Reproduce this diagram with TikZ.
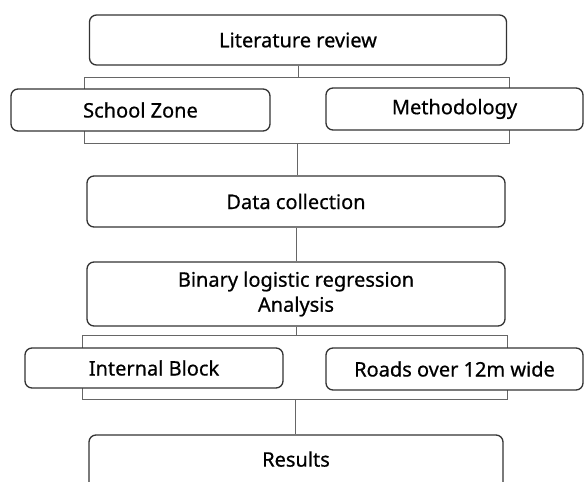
\documentclass[tikz,border=0pt]{standalone}
\usepackage{fontspec}
\newfontfamily\stagefont{Noto Sans}[FakeBold=0.6]
\usepackage{tikz}
\tikzset{
  stagebox/.style  = {draw=black!80, line width=1.3pt, rounded corners=7pt, fill=white,
                      inner sep=0pt, align=center,
                      font=\stagefont\fontsize{20}{25}\selectfont},
  groupframe/.style = {draw=black!60, line width=0.9pt, inner sep=0pt, outer sep=0pt},
  link/.style      = {draw=black!60, line width=0.9pt}
}

\begin{document}
\begin{tikzpicture}[x=1pt,y=-1pt]
  \useasboundingbox (0,0) rectangle (584,482);
  % frames behind the paired boxes
  \node[groupframe, minimum width=425pt, minimum height=66pt] (frame1) at (297,110) {};
  \node[groupframe, minimum width=425pt, minimum height=64pt] (frame2) at (295,367) {};
  % main stages
  \node[stagebox, minimum width=417pt, minimum height=50pt] (lit)  at (298,40)    {Literature review};
  \node[stagebox, minimum width=259pt, minimum height=42pt] (zone) at (140.5,110) {School Zone};
  \node[stagebox, minimum width=257pt, minimum height=42pt] (meth) at (454.5,109) {Methodology};
  \node[stagebox, minimum width=418pt, minimum height=51pt] (data) at (296,201.5) {Data collection};
  \node[stagebox, minimum width=418pt, minimum height=64pt] (blr)  at (296,294)   {Binary logistic regression\\Analysis};
  \node[stagebox, minimum width=258pt, minimum height=40pt] (block) at (154,368)  {Internal Block};
  \node[stagebox, minimum width=257pt, minimum height=42pt] (roads) at (454.5,369) {Roads over 12m wide};
  \node[stagebox, minimum width=414pt, minimum height=70pt, text depth=22pt] (res) at (296,470) {Results};
  % connectors
  \draw[link] (lit.south)    -- (lit.south |- frame1.north);
  \draw[link] (frame1.south) -- (frame1.south |- data.north);
  \draw[link] (data.south)   -- (blr.north);
  \draw[link] (blr.south)    -- (blr.south |- frame2.north);
  \draw[link] (frame2.south) -- (frame2.south |- res.north);
\end{tikzpicture}
\end{document}
